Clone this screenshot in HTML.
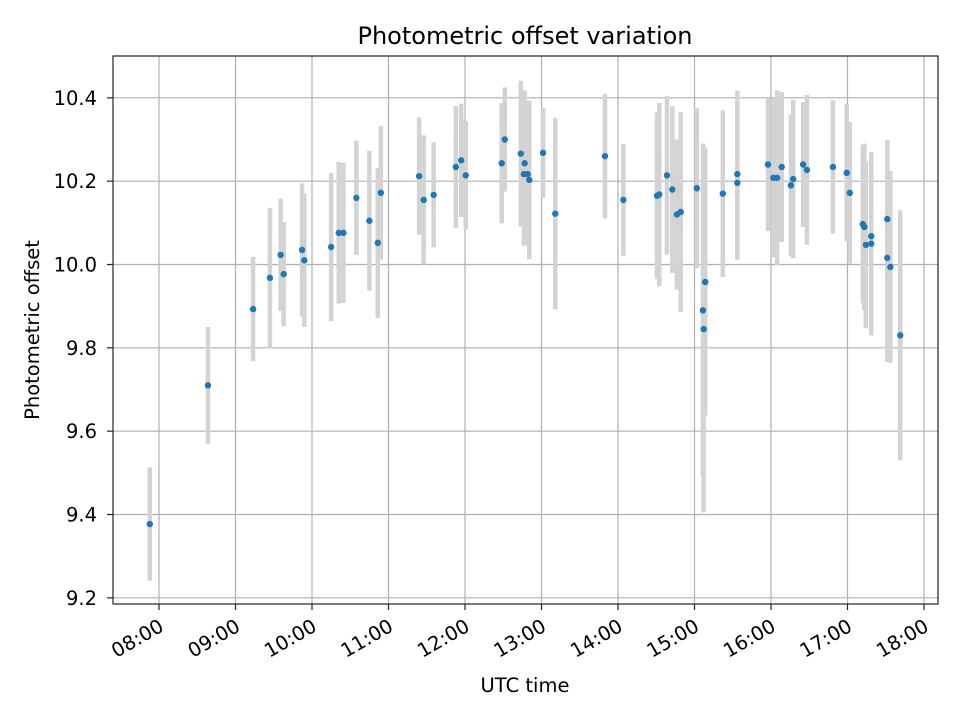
<!DOCTYPE html>
<html><head><meta charset="utf-8"><style>
html,body{margin:0;padding:0;background:#fff;}
svg{display:block;font-family:"DejaVu Sans","Liberation Sans",sans-serif;}
</style></head><body>
<svg id="chart" width="960" height="720" viewBox="0 0 960 720">
<rect x="0" y="0" width="960" height="720" fill="#fff"/>
<text x="525" y="44" font-size="24" text-anchor="middle" fill="#000">Photometric offset variation</text>
<g id="grid"></g>
<g id="errs"></g>
<g id="pts"></g>
<rect x="113" y="56" width="825" height="548" fill="none" stroke="#222" stroke-width="1.2"/>
<g id="xt"></g><g id="yt"></g>
<text x="525" y="692" font-size="19.5" text-anchor="middle">UTC time</text>
<text transform="translate(39,330) rotate(-90)" font-size="19.5" text-anchor="middle">Photometric offset</text>
</svg>
<script>
const times=[7.88,8.64,9.23,9.45,9.59,9.63,9.87,9.90,10.25,10.35,10.41,10.58,10.75,10.86,10.90,11.40,11.46,11.59,11.88,11.95,12.01,12.48,12.52,12.73,12.78,12.77,12.82,12.84,13.02,13.18,13.83,14.07,14.51,14.54,14.64,14.71,14.77,14.82,15.03,15.14,15.11,15.12,15.37,15.56,15.56,15.96,16.03,16.08,16.14,16.26,16.29,16.42,16.47,16.81,16.99,17.03,17.20,17.22,17.24,17.31,17.31,17.52,17.52,17.56,17.69];
const offsets=[9.377,9.71,9.893,9.968,10.023,9.977,10.035,10.01,10.042,10.076,10.076,10.16,10.105,10.052,10.172,10.212,10.155,10.167,10.234,10.25,10.214,10.243,10.30,10.266,10.243,10.217,10.217,10.203,10.268,10.122,10.26,10.155,10.165,10.168,10.214,10.18,10.12,10.126,10.183,9.958,9.89,9.845,10.17,10.196,10.217,10.24,10.208,10.208,10.234,10.19,10.205,10.24,10.227,10.234,10.22,10.172,10.097,10.09,10.047,10.05,10.068,10.109,10.016,9.994,9.83];
const errors=[0.136,0.14,0.125,0.168,0.135,0.125,0.16,0.16,0.178,0.17,0.168,0.137,0.168,0.18,0.16,0.141,0.155,0.126,0.146,0.136,0.13,0.144,0.125,0.175,0.175,0.172,0.17,0.19,0.108,0.23,0.149,0.134,0.2,0.22,0.19,0.2,0.18,0.24,0.192,0.32,0.4,0.44,0.2,0.185,0.2,0.16,0.19,0.21,0.18,0.17,0.19,0.15,0.18,0.16,0.165,0.17,0.19,0.2,0.2,0.22,0.2,0.19,0.25,0.23,0.3];
const xTicks=[8,9,10,11,12,13,14,15,16,17,18];
const xTickLabels=["08:00","09:00","10:00","11:00","12:00","13:00","14:00","15:00","16:00","17:00","18:00"];
const yTicks=[9.2,9.4,9.6,9.8,10.0,10.2,10.4];
const yTickLabels=["9.2","9.4","9.6","9.8","10.0","10.2","10.4"];

const NS="http://www.w3.org/2000/svg";
function xs(h){return 159+(h-8)*76.5;}
function ys(v){return 264.5-(v-10)*416.67;}
function mk(tag,attrs,parent){const e=document.createElementNS(NS,tag);for(const k in attrs)e.setAttribute(k,attrs[k]);document.getElementById(parent).appendChild(e);return e;}

xTicks.forEach((t,i)=>{
  const x=xs(t);
  const g=mk('line',{x1:x,x2:x,y1:56,y2:604,stroke:'#b0b0b0','stroke-width':1.2},'grid');
  
  
  const tk=mk('line',{x1:x,x2:x,y1:604,y2:610,stroke:'#222','stroke-width':1.2},'xt');
  
  
  const tx=mk('text',{x:0,y:0,'font-size':19.5,'text-anchor':'end',transform:`translate(${x+6},${630}) rotate(-30)`},'xt');
  tx.textContent=xTickLabels[i];
  
  
});
yTicks.forEach((t,i)=>{
  const y=ys(t);
  const g=mk('line',{x1:113,x2:938,y1:y,y2:y,stroke:'#b0b0b0','stroke-width':1.2},'grid');
  
  
  const tk=mk('line',{x1:107,x2:113,y1:y,y2:y,stroke:'#222','stroke-width':1.2},'yt');
  
  
  const tx=mk('text',{x:97,y:y+7,'font-size':19.5,'text-anchor':'end'},'yt');
  tx.textContent=yTickLabels[i];
  
  
});
times.forEach((t,i)=>{
  const x=xs(t);
  const e=mk('line',{x1:x,x2:x,y1:ys(offsets[i]+errors[i]),y2:ys(offsets[i]-errors[i]),stroke:'#d3d3d3','stroke-width':4.5},'errs');
  
  
  const c=mk('circle',{cx:x,cy:ys(offsets[i]),r:3.2,fill:'#1f77b4'},'pts');
  
  
});
</script>
</body></html>
